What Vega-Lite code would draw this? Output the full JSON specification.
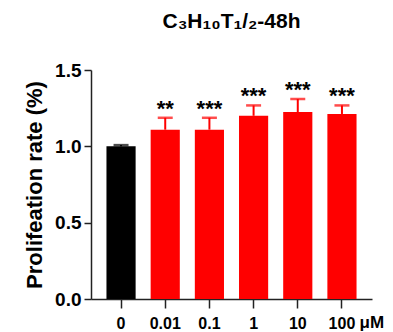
{
  "$schema": "https://vega.github.io/schema/vega-lite/v6.json",
  "width": 281,
  "height": 229,
  "autosize": {"type": "none"},
  "padding": {"left": 91, "top": 70, "right": 21, "bottom": 33},
  "background": "white",
  "title": {
    "text": "C₃H₁₀T₁/₂-48h",
    "font": "Liberation Sans",
    "fontSize": 21,
    "fontWeight": "bold",
    "color": "#000000",
    "anchor": "middle",
    "offset": 29
  },
  "data": {
    "values": [
      {"dose": "0", "grp": "control", "value": 1.0, "upper": 1.008, "stars": ""},
      {"dose": "0.01", "grp": "treat", "value": 1.109, "upper": 1.187, "stars": "**"},
      {"dose": "0.1", "grp": "treat", "value": 1.109, "upper": 1.187, "stars": "***"},
      {"dose": "1", "grp": "treat", "value": 1.2, "upper": 1.268, "stars": "***"},
      {"dose": "10", "grp": "treat", "value": 1.225, "upper": 1.31, "stars": "***"},
      {"dose": "100", "grp": "treat", "value": 1.212, "upper": 1.268, "stars": "***"}
    ]
  },
  "encoding": {
    "x": {
      "field": "dose",
      "type": "nominal",
      "sort": null,
      "scale": {"paddingInner": 0.34, "paddingOuter": 0.35},
      "axis": {
        "title": "μM",
        "titleFont": "Liberation Sans",
        "titleFontSize": 17,
        "titleFontWeight": "bold",
        "titleColor": "#000000",
        "titleAlign": "left",
        "titleAnchor": "start",
        "titleBaseline": "top",
        "titleX": 268,
        "titleY": 15,
        "labelAngle": 0,
        "labelFont": "Liberation Sans",
        "labelFontSize": 16,
        "labelFontWeight": "bold",
        "labelColor": "#000000",
        "labelPadding": 7,
        "tickSize": 9,
        "tickWidth": 1.5,
        "tickColor": "#222222",
        "domainColor": "#222222",
        "domainWidth": 1.5,
        "grid": false
      }
    },
    "color": {
      "field": "grp",
      "type": "nominal",
      "scale": {"domain": ["control", "treat"], "range": ["#000000", "#FF0000"]},
      "legend": null
    }
  },
  "layer": [
    {
      "mark": {"type": "bar"},
      "encoding": {
        "y": {
          "field": "value",
          "type": "quantitative",
          "scale": {"domain": [0, 1.5], "nice": false},
          "axis": {
            "title": "Prolifeation rate (%)",
            "titleFont": "Liberation Sans",
            "titleFontSize": 22,
            "titleFontWeight": "bold",
            "titleColor": "#000000",
            "titlePadding": 8,
            "values": [0, 0.5, 1, 1.5],
            "format": ".1f",
            "labelFont": "Liberation Sans",
            "labelFontSize": 19,
            "labelFontWeight": "bold",
            "labelColor": "#000000",
            "labelPadding": 3,
            "tickSize": 7,
            "tickWidth": 1.5,
            "tickColor": "#222222",
            "domainColor": "#222222",
            "domainWidth": 1.5,
            "grid": false
          }
        }
      }
    },
    {
      "mark": {"type": "rule", "strokeWidth": 2},
      "encoding": {
        "y": {"field": "value", "type": "quantitative"},
        "y2": {"field": "upper"}
      }
    },
    {
      "mark": {"type": "tick", "thickness": 2.5, "size": 15},
      "encoding": {
        "y": {"field": "upper", "type": "quantitative"}
      }
    },
    {
      "mark": {"type": "text", "font": "Liberation Sans", "fontSize": 22, "fontWeight": "bold", "baseline": "middle", "dy": -9, "color": "#000000"},
      "encoding": {
        "y": {"field": "upper", "type": "quantitative"},
        "text": {"field": "stars"},
        "color": {"value": "#000000"}
      }
    }
  ],
  "config": {"view": {"stroke": null}}
}
